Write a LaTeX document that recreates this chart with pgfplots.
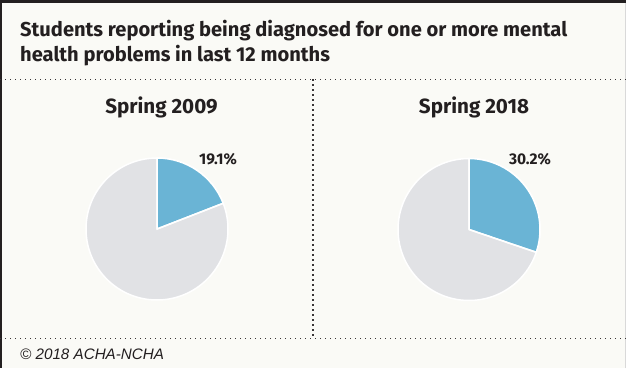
\documentclass[border=0pt]{standalone}
\usepackage{pgfplots}
\usepackage{pgfplotstable}
\pgfplotsset{compat=1.18}
\usepackage{fontspec}
\setmainfont{Fira Sans}
\newfontfamily\footfont{Liberation Sans}
\definecolor{bg}{HTML}{FAFAF6}
\definecolor{ink}{HTML}{231F20}
\definecolor{pieblue}{HTML}{6AB4D5}
\definecolor{piegray}{HTML}{E1E2E5}

\pgfplotstableread{
year value
2009 19.1
2018 30.2
}\piedata
\pgfplotstablegetelem{0}{value}\of\piedata \let\vA\pgfplotsretval
\pgfplotstablegetelem{1}{value}\of\piedata \let\vB\pgfplotsretval

\begin{document}
\begin{tikzpicture}[x=1pt,y=1pt]
\useasboundingbox (0,0) rectangle (626,368);
\fill[bg] (0,0) rectangle (626,368);
\fill[ink] (0,364.7) rectangle (626,368);
\fill[ink] (0,0) rectangle (1.5,368);
\draw[black!15, line width=0.8pt] (625.4,0) -- (625.4,364.7);

\node[anchor=base west, inner sep=0, text=ink, font=\bfseries\fontsize{20.1}{22}\selectfont] at (20,332) {Students reporting being diagnosed for one or more mental};
\node[anchor=base west, inner sep=0, text=ink, font=\bfseries\fontsize{20.1}{22}\selectfont] at (20,307) {health problems in last 12 months};

\draw[ink!90, line width=1.3pt, dash pattern=on 1.3pt off 3.7pt] (0,288.7) -- (626,288.7);
\draw[ink!90, line width=1.3pt, dash pattern=on 1.3pt off 3.7pt] (0,29.3) -- (626,29.3);
\draw[ink!90, line width=1.3pt, dash pattern=on 1.3pt off 3.7pt] (313,288.7) -- (313,29.3);

\node[anchor=base, inner sep=0, text=ink, font=\bfseries\fontsize{20.6}{22}\selectfont] at (161.5,254.7) {Spring 2009};
\node[anchor=base, inner sep=0, text=ink, font=\bfseries\fontsize{20.6}{22}\selectfont] at (474,254.7) {Spring 2018};

\node[anchor=base west, inner sep=0, text=ink, font=\footfont\itshape\fontsize{15.2}{18}\selectfont] at (20,9) {\textcopyright{} 2018 ACHA-NCHA};

\begin{axis}[at={(157pt,139pt)}, anchor=center, x=71pt, y=71pt,
  xmin=-1, xmax=1, ymin=-1, ymax=1, hide axis, clip=false]
\fill[piegray, draw=white, line width=1.5pt] (axis cs:0,0) -- (axis cs:0,1)
  arc[start angle=90, end angle={90-360}, radius=71pt] -- cycle;
\fill[pieblue, draw=white, line width=1.5pt] (axis cs:0,0) -- (axis cs:0,1)
  arc[start angle=90, end angle={90-3.6*\vA}, radius=71pt] -- cycle;
\draw[white, line width=1.5pt] (axis cs:0,0) -- (axis cs:{cos(90-3.6*\vA)},{sin(90-3.6*\vA)});
\node[anchor=base, inner sep=0, text=ink, font=\bfseries\fontsize{15.5}{17}\selectfont] at (axis cs:0.859,0.915) {\vA\%};
\end{axis}

\begin{axis}[at={(469pt,138.5pt)}, anchor=center, x=71pt, y=71pt,
  xmin=-1, xmax=1, ymin=-1, ymax=1, hide axis, clip=false]
\fill[piegray, draw=white, line width=1.5pt] (axis cs:0,0) -- (axis cs:0,1)
  arc[start angle=90, end angle={90-360}, radius=71pt] -- cycle;
\fill[pieblue, draw=white, line width=1.5pt] (axis cs:0,0) -- (axis cs:0,1)
  arc[start angle=90, end angle={90-3.6*\vB}, radius=71pt] -- cycle;
\draw[white, line width=1.5pt] (axis cs:0,0) -- (axis cs:{cos(90-3.6*\vB)},{sin(90-3.6*\vB)});
\node[anchor=base, inner sep=0, text=ink, font=\bfseries\fontsize{15.5}{17}\selectfont] at (axis cs:0.859,0.92) {\vB\%};
\end{axis}
\end{tikzpicture}
\end{document}
